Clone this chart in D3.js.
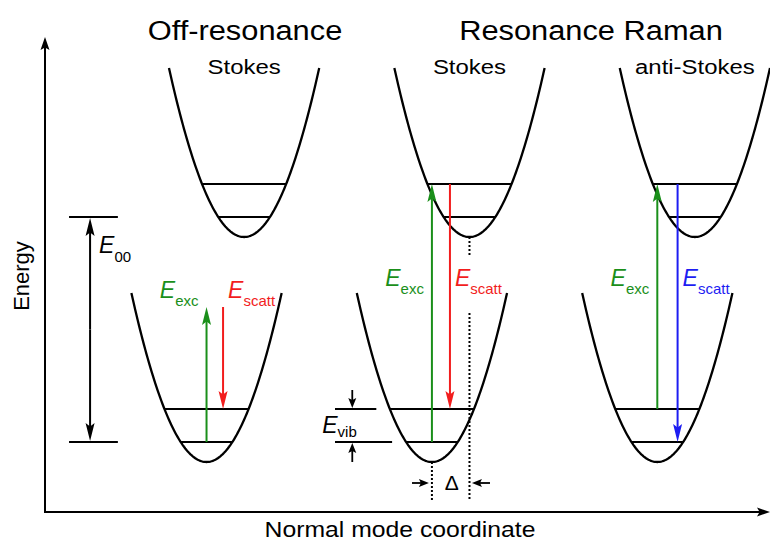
<!DOCTYPE html>
<html>
<head>
<meta charset="utf-8">
<script src="https://cdn.jsdelivr.net/npm/d3@7"></script>
<style>
  html, body { margin: 0; padding: 0; background: #fff; }
  svg { display: block; font-family: "Liberation Sans", Arial, Helvetica, sans-serif; }
</style>
</head>
<body>
<svg id="chart" width="770" height="544"></svg>
<script>
// ---- Diagram values (normal-mode coordinate q, energy E) ----
const panelTitles   = ["Off-resonance", "Resonance Raman"];
const columnLabels  = ["Stokes", "Stokes", "anti-Stokes"];
const groundMinQ    = [0, 3, 6];          // ground-state potential minima
const displacement  = 0.5;                // Δ: shift of the excited-state minimum
const groundMinE    = 0;
const excitedMinE   = 4.5;
const curvature     = 3.38;               // E = k (q - q0)^2
const wellHalfWidth = 1.0;                // drawn extent of each well in q
const levelOffsets  = [0.4, 1.06];        // vibrational levels v=0, v=1 above each minimum

// transitions per column
const excQ      = [0, 3, 6];
const excFrom   = [0.4, 0.4, 1.06];
const excTo     = [3.1, 5.56, 5.56];
const scattQ    = [0.22, 3.24, 6.27];
const scattFrom = [3.1, 5.56, 5.56];
const scattTo   = [1.06, 1.06, 0.4];
const scattColor = ["#f21d1d", "#f21d1d", "#1d1df2"];
const excColor   = "#1a8f1a";

// E00 marker and E_vib / Δ annotations
const e00Q = -1.55, e00Span = [-1.83, -1.18], e00From = 0.4, e00To = 4.9;
const evibQ = 1.94, evibUpperSpan = [1.71, 2.26], evibLowerSpan = [1.71, 2.47];
const deltaE = -0.42, dotBottomE = -0.76;

// ---- Scales ----
const xScale = d3.scaleLinear().domain([-2.15, 7.5]).range([45, 770]);
const yScale = d3.scaleLinear().domain([-1, 8.5]).range([512, 37]);

const svg = d3.select("#chart");
const g = svg.append("g");

// arrow: shaft plus a slim, slightly notched head ending exactly at (x2, y2)
function arrow(x1, y1, x2, y2, color, len, wid, sw) {
  const dx = x2 - x1, dy = y2 - y1, d = Math.hypot(dx, dy);
  const ux = dx / d, uy = dy / d, px = -uy, py = ux;
  const bx = x2 - ux * len, by = y2 - uy * len;
  const nx = x2 - ux * len * 0.8, ny = y2 - uy * len * 0.8;
  g.append("line")
    .attr("x1", x1).attr("y1", y1)
    .attr("x2", x2 - ux * len * 0.7).attr("y2", y2 - uy * len * 0.7)
    .attr("stroke", color).attr("stroke-width", sw || 2);
  g.append("path")
    .attr("d", `M${x2},${y2}L${bx + px * wid / 2},${by + py * wid / 2}L${nx},${ny}L${bx - px * wid / 2},${by - py * wid / 2}Z`)
    .attr("fill", color);
}

function hline(x1, x2, y, color, sw) {
  g.append("line").attr("x1", x1).attr("x2", x2).attr("y1", y).attr("y2", y)
    .attr("stroke", color || "#000").attr("stroke-width", sw || 2);
}

function stretchedText(x, y, str, size, sx, anchor) {
  return g.append("text")
    .attr("transform", `translate(${x},${y}) scale(${sx},1)`)
    .attr("text-anchor", anchor || "middle")
    .style("font-size", size + "px")
    .attr("fill", "#000")
    .text(str);
}

function eLabel(x, y, sub, color, anchor, subDy) {
  const t = g.append("text")
    .attr("x", x).attr("y", y)
    .attr("text-anchor", anchor)
    .attr("fill", color);
  t.append("tspan").style("font-style", "italic").style("font-size", "23px").text("E");
  t.append("tspan").attr("dy", subDy).style("font-size", "15px").text(sub);
}

// ---- Axes ----
const x0 = xScale.range()[0], xEnd = xScale.range()[1];
const yBase = yScale.range()[0], yTop = yScale.range()[1];
arrow(x0, yBase, xEnd, yBase, "#000", 13, 9, 2);
arrow(x0, yBase + 1, x0, yTop, "#000", 13, 9, 2);

g.append("text")
  .attr("transform", `translate(29,276) rotate(-90)`)
  .attr("text-anchor", "middle")
  .style("font-size", "22px")
  .text("Energy");
stretchedText(400, 537, "Normal mode coordinate", 22.5, 1.1, "middle");

// ---- Titles ----
stretchedText(245, 40, panelTitles[0], 28, 1.1, "middle");
stretchedText(591, 40, panelTitles[1], 28, 1.1, "middle");
columnLabels.forEach((lab, i) => {
  stretchedText(xScale(groundMinQ[i] + displacement), 74, lab, 21, 1.14, "middle");
});

// ---- Potential wells ----
const wellLine = d3.line().x(d => xScale(d[0])).y(d => yScale(d[1])).curve(d3.curveLinear);
function well(q0, e0) {
  const pts = d3.range(-wellHalfWidth, wellHalfWidth + 1e-9, wellHalfWidth / 60)
    .map(dq => [q0 + dq, e0 + curvature * dq * dq]);
  g.append("path").attr("d", wellLine(pts))
    .attr("fill", "none").attr("stroke", "#000").attr("stroke-width", 2.3);
  levelOffsets.forEach(off => {
    const hw = Math.sqrt(off / curvature);
    hline(xScale(q0 - hw), xScale(q0 + hw), yScale(e0 + off), "#000", 2);
  });
}
groundMinQ.forEach(q => {
  well(q, groundMinE);
  well(q + displacement, excitedMinE);
});

// ---- Dotted guides and Δ ----
function dotted(q, e1, e2) {
  g.append("line").attr("x1", xScale(q)).attr("x2", xScale(q))
    .attr("y1", yScale(e1)).attr("y2", yScale(e2))
    .attr("stroke", "#000").attr("stroke-width", 2).attr("stroke-dasharray", "2,2");
}
const qS = groundMinQ[1];
dotted(qS, groundMinE, dotBottomE);
dotted(qS + displacement, 2.98, dotBottomE);
dotted(qS + displacement, excitedMinE, 4.14);
arrow(xScale(qS - 0.265), yScale(deltaE), xScale(qS - 0.04), yScale(deltaE), "#000", 10, 8, 1.8);
arrow(xScale(qS + displacement + 0.273), yScale(deltaE), xScale(qS + displacement + 0.033), yScale(deltaE), "#000", 10, 8, 1.8);
g.append("text").attr("x", xScale(qS + displacement / 2) + 1).attr("y", yScale(deltaE) + 6.5)
  .attr("text-anchor", "middle").style("font-size", "21px").text("Δ");

// ---- E_vib ----
hline(xScale(evibUpperSpan[0]), xScale(evibUpperSpan[1]), yScale(groundMinE + levelOffsets[1]));
hline(xScale(evibLowerSpan[0]), xScale(evibLowerSpan[1]), yScale(groundMinE + levelOffsets[0]));
arrow(xScale(evibQ), yScale(groundMinE + levelOffsets[1]) - 19, xScale(evibQ), yScale(groundMinE + levelOffsets[1]) - 1, "#000", 10, 8, 1.8);
arrow(xScale(evibQ), yScale(groundMinE + levelOffsets[0]) + 20, xScale(evibQ), yScale(groundMinE + levelOffsets[0]) + 1, "#000", 10, 8, 1.8);
eLabel(xScale(evibQ) - 30, 433, "vib", "#000", "start", 4);

// ---- E00 ----
hline(xScale(e00Span[0]), xScale(e00Span[1]), yScale(e00To));
hline(xScale(e00Span[0]), xScale(e00Span[1]), yScale(e00From));
arrow(xScale(e00Q), (yScale(e00From) + yScale(e00To)) / 2, xScale(e00Q), yScale(e00To) + 1, "#000", 18, 9, 2);
arrow(xScale(e00Q), (yScale(e00From) + yScale(e00To)) / 2, xScale(e00Q), yScale(e00From) - 1, "#000", 18, 9, 2);
eLabel(xScale(e00Q) + 9, 253, "00", "#000", "start", 9);

// ---- Excitation / scattering transitions ----
const labelBaseline = [298, 286, 286];
excQ.forEach((q, i) => {
  arrow(xScale(q), yScale(excFrom[i]), xScale(q), yScale(excTo[i]), excColor, 18, 9, 2);
  arrow(xScale(scattQ[i]), yScale(scattFrom[i]), xScale(scattQ[i]), yScale(scattTo[i]), scattColor[i], 18, 9, 2);
  eLabel(xScale(q) - 8, labelBaseline[i], "exc", excColor, "end", 8);
  eLabel(xScale(scattQ[i]) + 5, labelBaseline[i], "scatt", scattColor[i], "start", 8);
});
</script>
</body>
</html>
